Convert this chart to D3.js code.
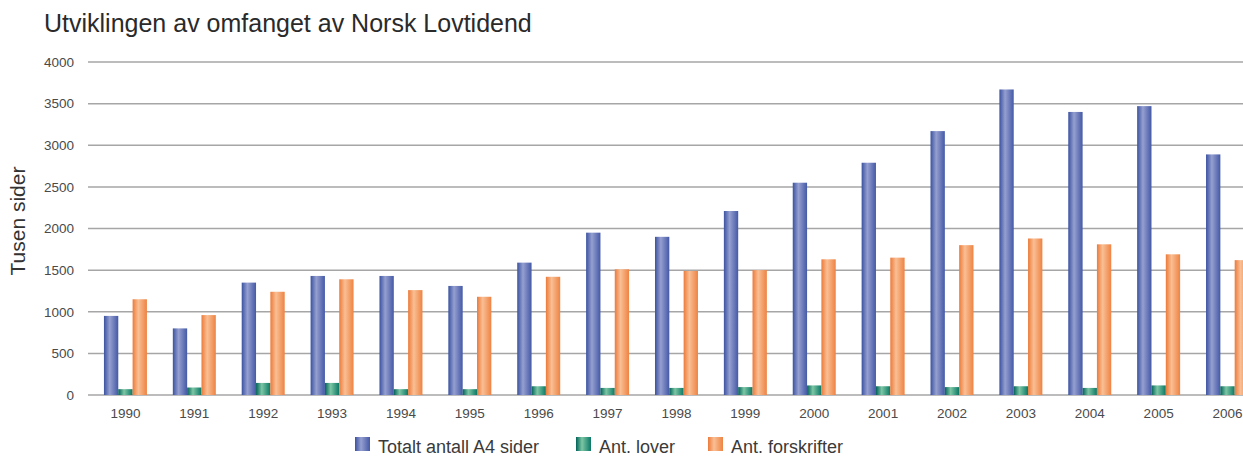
<!DOCTYPE html>
<html>
<head>
<meta charset="utf-8">
<script src="https://cdn.jsdelivr.net/npm/d3@7"></script>
<style>
  body { margin: 0; background: #fff; }
  text { font-family: "Liberation Sans", Arial, sans-serif; }
</style>
</head>
<body>
<svg id="chart" width="1243" height="457"></svg>
<script>
// values (tusen sider)
var years = ['1990','1991','1992','1993','1994','1995','1996','1997','1998','1999','2000','2001','2002','2003','2004','2005','2006'];
var totalt = [950, 800, 1350, 1430, 1430, 1310, 1590, 1950, 1900, 2210, 2550, 2790, 3170, 3670, 3400, 3470, 2890];
var lover = [70, 90, 145, 145, 70, 70, 105, 85, 85, 95, 115, 105, 95, 105, 85, 115, 105];
var forskrifter = [1150, 960, 1240, 1390, 1260, 1180, 1420, 1510, 1490, 1500, 1630, 1650, 1800, 1880, 1810, 1690, 1620];
var seriesNames = ['Totalt antall A4 sider', 'Ant. lover', 'Ant. forskrifter'];
var yTicks = [0, 500, 1000, 1500, 2000, 2500, 3000, 3500, 4000];

var dim = {
  left: 88,
  right: 1243,
  top: 62,
  bottom: 395
}

var svg = d3.select("#chart");

// gradients: dark edges, light stripe left of middle
var grads = [
  {id: 'gBlue', dark: '#3b52a0', light: '#959fd0', end: '#4459a6'},
  {id: 'gGreen', dark: '#006257', light: '#7cc6a4', end: '#0a7866'},
  {id: 'gOrange', dark: '#ec7a3a', light: '#f9bf94', end: '#ee8343'}
];
var defs = svg.append("defs");
grads.forEach(function(g) {
  var lg = defs.append("linearGradient").attr("id", g.id)
    .attr("x1", "0%").attr("x2", "100%").attr("y1", "0%").attr("y2", "0%");
  lg.append("stop").attr("offset", "0%").attr("stop-color", g.dark);
  lg.append("stop").attr("offset", "40%").attr("stop-color", g.light);
  lg.append("stop").attr("offset", "100%").attr("stop-color", g.end);
});

var y = d3.scaleLinear().domain([0, 4000]).range([dim.bottom, dim.top]);

var x0 = d3.scaleBand()
  .domain(years)
  .range([91, 91 + 17 * 68.88])
  .paddingInner(0.376)
  .paddingOuter(0.188);

var x1 = d3.scaleBand()
  .domain([0, 1, 2])
  .range([0, x0.bandwidth()]);

// title
svg.append("text")
  .attr("x", 44)
  .attr("y", 32)
  .style("font-size", "25px")
  .style("fill", "#2a2a2a")
  .text("Utviklingen av omfanget av Norsk Lovtidend");

// y axis title
svg.append("text")
  .attr("transform", "translate(25,221) rotate(-90)")
  .style("text-anchor", "middle")
  .style("font-size", "21px")
  .style("fill", "#333")
  .text("Tusen sider");

// gridlines
svg.append("g")
  .selectAll("line")
  .data(yTicks)
  .enter().append("line")
  .attr("x1", dim.left)
  .attr("x2", dim.right)
  .attr("y1", function(d) { return y(d); })
  .attr("y2", function(d) { return y(d); })
  .attr("stroke", "#a6a6a6")
  .attr("stroke-width", 1.5);

// y tick labels
var yAxis = svg.append("g")
  .attr("transform", "translate(" + dim.left + ",0)")
  .call(d3.axisLeft(y).tickValues(yTicks).tickFormat(d3.format("d")).tickSize(0).tickPadding(14));
yAxis.select(".domain").remove();
yAxis.selectAll("text")
  .style("font-family", "'Liberation Sans', Arial, sans-serif")
  .style("font-size", "13.5px")
  .style("fill", "#4a4a4a");

// x labels
var xAxis = svg.append("g")
  .attr("transform", "translate(0," + dim.bottom + ")")
  .call(d3.axisBottom(x0).tickSize(0).tickPadding(13));
xAxis.select(".domain").remove();
xAxis.selectAll("text")
  .style("font-family", "'Liberation Sans', Arial, sans-serif")
  .style("font-size", "13.5px")
  .style("fill", "#4a4a4a");

// bars
var allSeries = [totalt, lover, forskrifter];
var groups = svg.append("g")
  .selectAll("g")
  .data(years)
  .enter().append("g")
  .attr("transform", function(d) { return "translate(" + x0(d) + ",0)"; });

groups.selectAll("rect")
  .data(function(d, i) {
    return allSeries.map(function(s, k) { return {k: k, v: s[i]}; });
  })
  .enter().append("rect")
  .attr("x", function(d) { return x1(d.k); })
  .attr("width", x1.bandwidth())
  .attr("y", function(d) { return y(d.v); })
  .attr("height", function(d) { return y(0) - y(d.v); })
  .attr("fill", function(d) { return "url(#" + grads[d.k].id + ")"; });

// legend
var legendX = [355, 576, 708];
var legend = svg.append("g")
  .selectAll("g")
  .data(seriesNames)
  .enter().append("g")
  .attr("transform", function(d, i) { return "translate(" + legendX[i] + ",437)"; });

legend.append("rect")
  .attr("width", 15)
  .attr("height", 14)
  .attr("fill", function(d, i) { return "url(#" + grads[i].id + ")"; });

legend.append("text")
  .attr("x", 23)
  .attr("y", 16)
  .style("font-size", "18px")
  .style("fill", "#3a3a3a")
  .text(function(d) { return d; });
</script>
</body>
</html>
